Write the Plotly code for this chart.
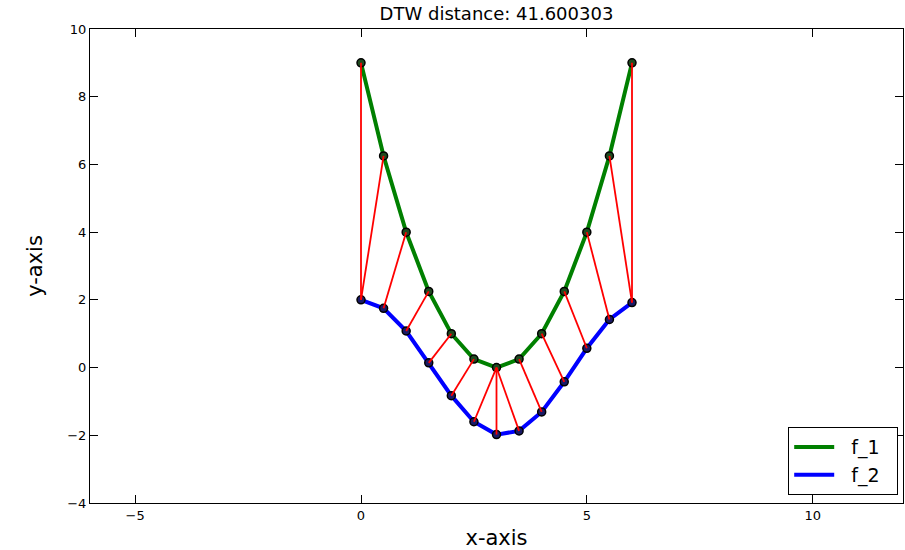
import plotly.graph_objects as go

# Two sampled series on a shared x grid
x_vals = [0.0, 0.5, 1.0, 1.5, 2.0, 2.5, 3.0, 3.5, 4.0, 4.5, 5.0, 5.5, 6.0]
f1_vals = [9.0, 6.25, 4.0, 2.25, 1.0, 0.25, 0.0, 0.25, 1.0, 2.25, 4.0, 6.25, 9.0]
f2_vals = [2.0, 1.75, 1.08, 0.14, -0.83, -1.6, -1.98, -1.87, -1.31, -0.42, 0.57, 1.42, 1.92]

# DTW warping path as (index in f_1, index in f_2)
path_i = [0, 1, 2, 3, 4, 5, 6, 6, 6, 7, 8, 9, 10, 11, 12]
path_j = [0, 0, 1, 2, 3, 4, 5, 6, 7, 8, 9, 10, 11, 12, 12]

dtw_distance = 41.600303

series = [
    ("f_1", f1_vals, "#008000", "#1f4a1f"),
    ("f_2", f2_vals, "#0000ff", "#1a1a66"),
]

fig = go.Figure()

for name, vals, col, mcol in series:
    fig.add_trace(go.Scatter(
        x=x_vals, y=vals, name=name, mode="lines+markers", showlegend=False,
        line=dict(color=col, width=4),
        marker=dict(size=8, color=mcol, line=dict(color="black", width=1.5)),
    ))

# Alignment segments between matched points
seg_x, seg_y = [], []
for i, j in zip(path_i, path_j):
    seg_x += [x_vals[i], x_vals[j], None]
    seg_y += [f1_vals[i], f2_vals[j], None]
fig.add_trace(go.Scatter(
    x=seg_x, y=seg_y, mode="lines", showlegend=False,
    line=dict(color="#ff0000", width=1.8), hoverinfo="skip",
))

# Line-only legend entries, padded with non-breaking spaces for a wider box
for name, vals, col, mcol in series:
    fig.add_trace(go.Scatter(
        x=[None], y=[None], name="\u00a0\u00a0" + name + "\u00a0\u00a0", mode="lines",
        line=dict(color=col, width=4),
    ))

font_family = "DejaVu Sans, sans-serif"
axis_common = dict(
    showgrid=False, zeroline=False,
    showline=True, linecolor="black", linewidth=1.2, mirror="ticks",
    ticks="inside", ticklen=8, tickwidth=1, tickcolor="black",
    tickfont=dict(family=font_family, size=13, color="black"),
)

fig.update_layout(
    width=905, height=550,
    margin=dict(l=90, r=2, t=29, b=47),
    paper_bgcolor="white", plot_bgcolor="white",
    font=dict(family=font_family, color="black"),
    title=dict(
        text=f"DTW distance: {dtw_distance:.6f}",
        x=(90 + 903) / 2 / 905, xanchor="center",
        y=1 - 14 / 550, yanchor="middle", yref="container",
        font=dict(family=font_family, size=18, color="black"),
    ),
    xaxis=dict(
        range=[-6, 12], tickvals=[-5, 0, 5, 10],
        ticktext=["\u22125", "0", "5", "10"],
        title=dict(text="x-axis", font=dict(family=font_family, size=21), standoff=8),
        **axis_common,
    ),
    yaxis=dict(
        range=[-4, 10], tickvals=[-4, -2, 0, 2, 4, 6, 8, 10],
        ticktext=["\u22124", "\u22122", "0", "2", "4", "6", "8", "10"],
        title=dict(text="y-axis", font=dict(family=font_family, size=21), standoff=18),
        **axis_common,
    ),
    legend=dict(
        x=1 - 5 / 813, y=8 / 474, xanchor="right", yanchor="bottom",
        bordercolor="black", borderwidth=1.2, bgcolor="white",
        font=dict(family=font_family, size=19, color="black"),
        itemwidth=40, tracegroupgap=0,
    ),
    showlegend=True,
)

fig.write_html("out.html")
